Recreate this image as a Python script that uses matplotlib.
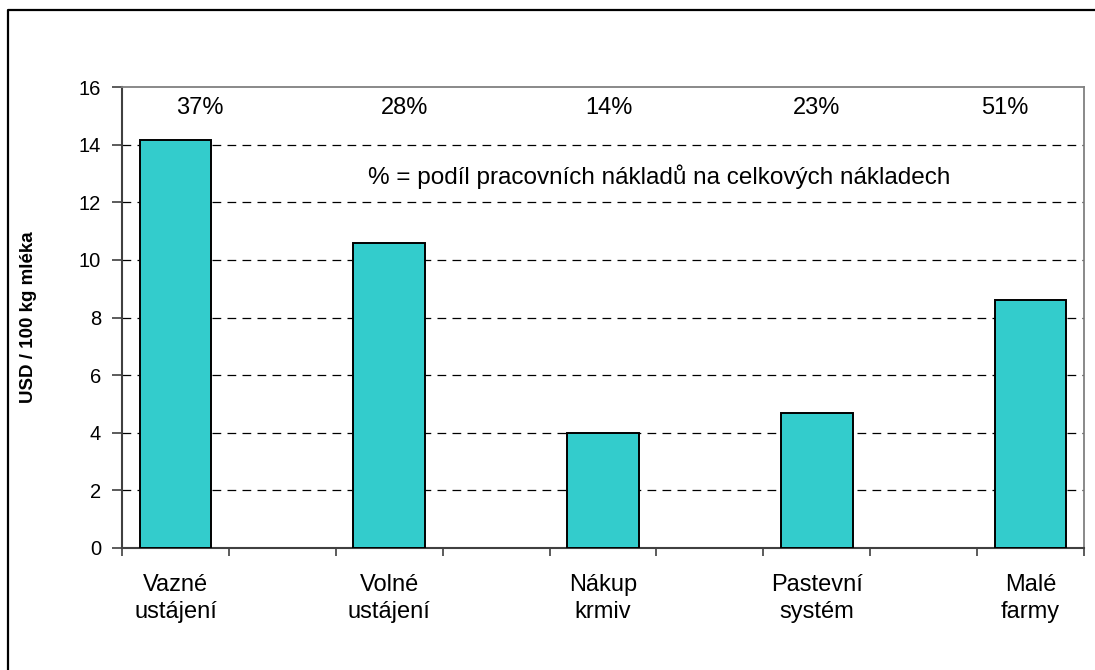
import numpy as np
import matplotlib
matplotlib.use("Agg")
import matplotlib.pyplot as plt
from matplotlib.lines import Line2D

# Data
kategorie = ["Vazné\nustájení", "Volné\nustájení", "Nákup\nkrmiv",
             "Pastevní\nsystém", "Malé\nfarmy"]
naklady = [14.15, 10.6, 4.0, 4.7, 8.6]
podil = ["37%", "28%", "14%", "23%", "51%"]
poznamka = "% = podíl pracovních nákladů na celkových nákladech"
osa_y = "USD / 100 kg mléka"

plt.rcParams["font.family"] = ["Liberation Sans", "DejaVu Sans"]

fig = plt.figure(figsize=(10.95, 6.70), dpi=100)
ax = fig.add_axes([0.1114, 0.1821, 0.8786, 0.688])

# Kategorie leží na každé druhé pozici (mezery mezi sloupci)
x = np.arange(len(kategorie)) * 2
ax.bar(x, naklady, width=0.67, color="#33CCCC", edgecolor="black",
       linewidth=1.4, zorder=3)

ax.set_xlim(-0.5, 2 * len(kategorie) - 1.5)
ax.set_ylim(0, 16)
ax.set_yticks(np.arange(0, 17, 2))
ax.set_xticks(x)
ax.set_xticklabels(kategorie, fontsize=17, linespacing=1.25)
ax.set_xticks(np.arange(-0.5, 2 * len(kategorie) - 1, 1), minor=True)
ax.tick_params(axis="x", which="major", length=0, pad=19)
ax.tick_params(axis="x", which="minor", length=6, width=1.2,
               color="#404040", direction="out")
ax.tick_params(axis="y", length=7, width=1.2, color="#404040",
               labelsize=14.5, pad=8)

# Mřížka - čárkovaně
for yv in np.arange(2, 16, 2):
    ax.axhline(yv, color="black", linewidth=0.9, dashes=(7, 5), zorder=1)

for s in ["left", "bottom"]:
    ax.spines[s].set_color("#404040")
    ax.spines[s].set_linewidth(1.5)
for s in ["top", "right"]:
    ax.spines[s].set_color("#808080")
    ax.spines[s].set_linewidth(1.3)

ax.set_ylabel(osa_y, fontsize=13.5, fontweight="bold", labelpad=30)

# Podíly nad sloupci
posun = [0.23, 0.14, 0.06, 0.0, -0.24]
for xi, p, d in zip(x, podil, posun):
    ax.text(xi + d, 15.28, p, ha="center", va="center", fontsize=17)

ax.text(4.53, 12.9, poznamka, ha="center", va="center", fontsize=17.5)

# Rámeček okolo grafu
fig.add_artist(Line2D([0.0073, 0.0073, 1.0], [0.0, 0.985, 0.985],
                      transform=fig.transFigure, color="black",
                      linewidth=1.6))

plt.savefig("out.png", dpi=100)
plt.close()
